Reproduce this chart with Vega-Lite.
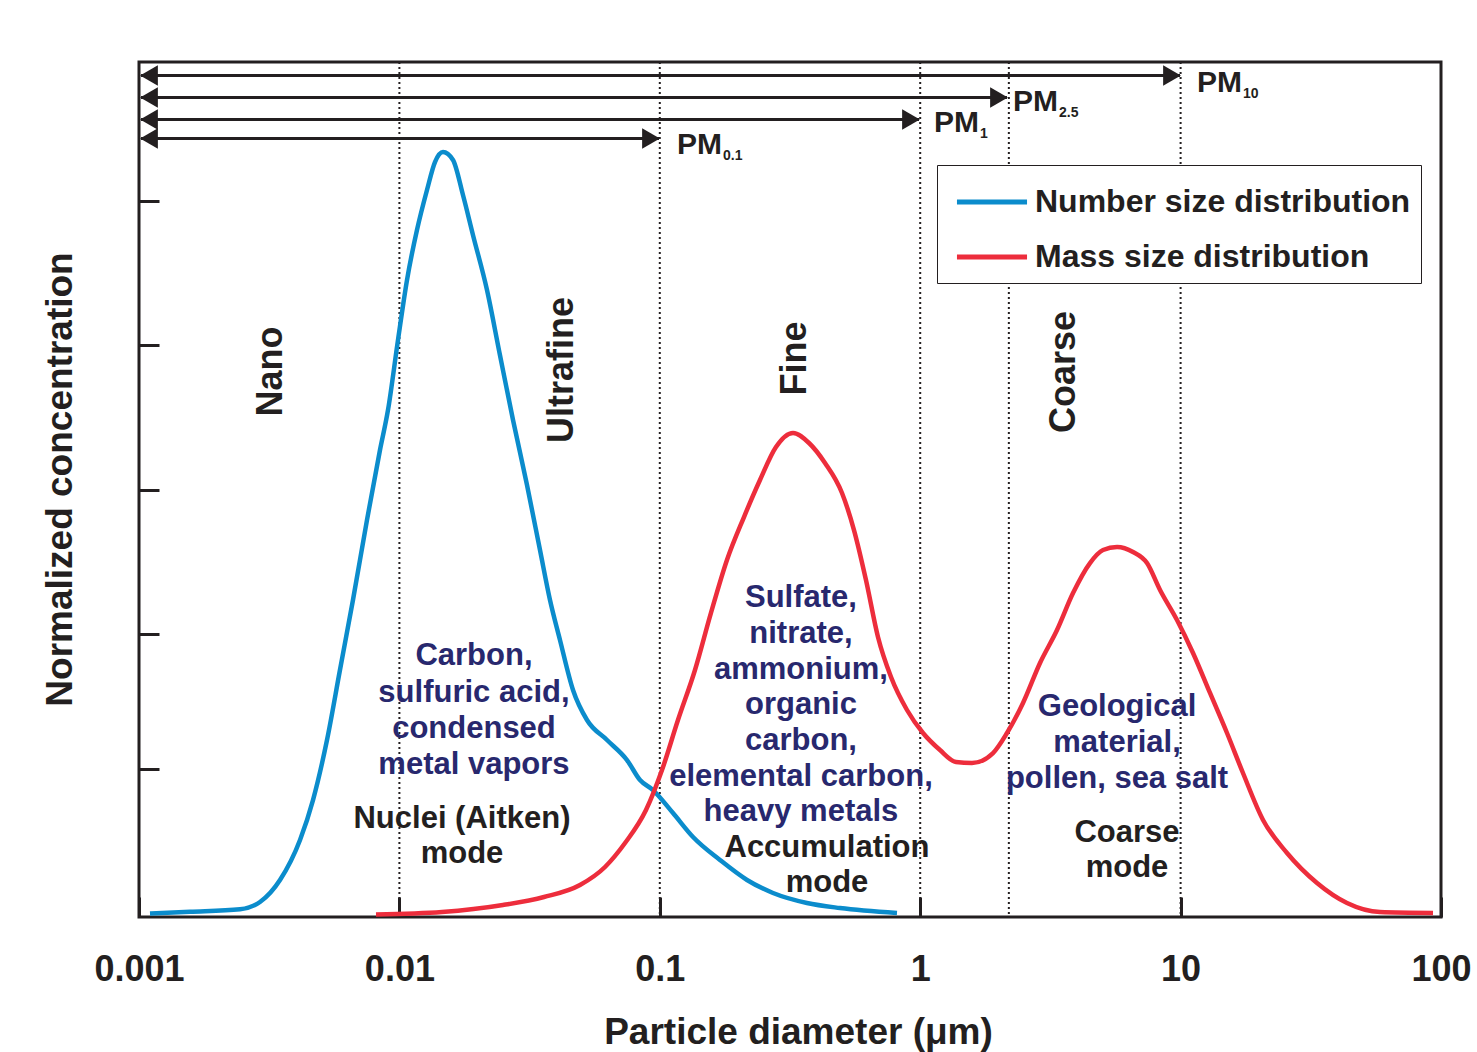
{
  "$schema": "https://vega.github.io/schema/vega-lite/v6.json",
  "width": 1302,
  "height": 855,
  "autosize": {"type": "none"},
  "padding": {"left": 139, "top": 62, "right": 36, "bottom": 135},
  "background": "white",
  "config": {
    "font": "Liberation Sans",
    "view": {"stroke": "#231f20", "strokeWidth": 3},
    "legend": {
      "orient": "none",
      "legendX": 798,
      "legendY": 103,
      "symbolType": "M-1.43,0H1.43",
      "symbolSize": 2401,
      "symbolStrokeWidth": 5,
      "symbolOffset": 18,
      "labelFontSize": 32,
      "labelFont": "Liberation Sans",
      "labelFontWeight": "bold",
      "labelColor": "#231f20",
      "labelLimit": 0,
      "labelOffset": 16,
      "strokeColor": "#231f20",
      "fillColor": "white",
      "padding": 10,
      "rowPadding": 12
    }
  },
  "datasets": {
    "vlines": [{"x": 0.01}, {"x": 0.1}, {"x": 1}, {"x": 2.19}, {"x": 10}],
    "arrows": [
      {"label": "PM10", "x": 0.0010178, "x2": 9.947, "y": 0.9842},
      {"label": "PM2.5", "x": 0.0010178, "x2": 2.1544, "y": 0.9585},
      {"label": "PM1", "x": 0.0010178, "x2": 0.98944, "y": 0.9327},
      {"label": "PM0.1", "x": 0.0010178, "x2": 0.0993, "y": 0.9105}
    ],
    "heads": [
      {"dir": "left", "x": 0.0010924, "y": 0.9842},
      {"dir": "left", "x": 0.0010924, "y": 0.9585},
      {"dir": "left", "x": 0.0010924, "y": 0.9327},
      {"dir": "left", "x": 0.0010924, "y": 0.9105},
      {"dir": "right", "x": 9.2675, "y": 0.9842},
      {"dir": "right", "x": 2.0077, "y": 0.9585},
      {"dir": "right", "x": 0.9219, "y": 0.9327},
      {"dir": "right", "x": 0.092522, "y": 0.9105}
    ],
    "curves": [
      {"series": "Number size distribution", "x": 0.001102, "y": 0.004},
      {"series": "Number size distribution", "x": 0.00157, "y": 0.006},
      {"series": "Number size distribution", "x": 0.002443, "y": 0.009},
      {"series": "Number size distribution", "x": 0.002915, "y": 0.0175},
      {"series": "Number size distribution", "x": 0.003479, "y": 0.0433},
      {"series": "Number size distribution", "x": 0.004153, "y": 0.0901},
      {"series": "Number size distribution", "x": 0.004658, "y": 0.1368},
      {"series": "Number size distribution", "x": 0.005272, "y": 0.207},
      {"series": "Number size distribution", "x": 0.005912, "y": 0.2889},
      {"series": "Number size distribution", "x": 0.006633, "y": 0.3708},
      {"series": "Number size distribution", "x": 0.007507, "y": 0.4643},
      {"series": "Number size distribution", "x": 0.008423, "y": 0.5462},
      {"series": "Number size distribution", "x": 0.009042, "y": 0.593},
      {"series": "Number size distribution", "x": 0.009876, "y": 0.6749},
      {"series": "Number size distribution", "x": 0.010695, "y": 0.745},
      {"series": "Number size distribution", "x": 0.011682, "y": 0.8035},
      {"series": "Number size distribution", "x": 0.012764, "y": 0.8503},
      {"series": "Number size distribution", "x": 0.013696, "y": 0.883},
      {"series": "Number size distribution", "x": 0.014703, "y": 0.8947},
      {"series": "Number size distribution", "x": 0.016062, "y": 0.8854},
      {"series": "Number size distribution", "x": 0.017545, "y": 0.8444},
      {"series": "Number size distribution", "x": 0.019165, "y": 0.7977},
      {"series": "Number size distribution", "x": 0.021697, "y": 0.7333},
      {"series": "Number size distribution", "x": 0.024327, "y": 0.6573},
      {"series": "Number size distribution", "x": 0.027309, "y": 0.5813},
      {"series": "Number size distribution", "x": 0.030904, "y": 0.5053},
      {"series": "Number size distribution", "x": 0.034667, "y": 0.4292},
      {"series": "Number size distribution", "x": 0.037871, "y": 0.3708},
      {"series": "Number size distribution", "x": 0.041366, "y": 0.324},
      {"series": "Number size distribution", "x": 0.046416, "y": 0.2655},
      {"series": "Number size distribution", "x": 0.052531, "y": 0.2304},
      {"series": "Number size distribution", "x": 0.062694, "y": 0.207},
      {"series": "Number size distribution", "x": 0.074817, "y": 0.1836},
      {"series": "Number size distribution", "x": 0.083946, "y": 0.1602},
      {"series": "Number size distribution", "x": 0.094171, "y": 0.1485},
      {"series": "Number size distribution", "x": 0.11239, "y": 0.1216},
      {"series": "Number size distribution", "x": 0.13414, "y": 0.0936},
      {"series": "Number size distribution", "x": 0.17024, "y": 0.0667},
      {"series": "Number size distribution", "x": 0.21625, "y": 0.0433},
      {"series": "Number size distribution", "x": 0.27212, "y": 0.0281},
      {"series": "Number size distribution", "x": 0.36741, "y": 0.0164},
      {"series": "Number size distribution", "x": 0.49204, "y": 0.0105},
      {"series": "Number size distribution", "x": 0.81452, "y": 0.0047},
      {"series": "Mass size distribution", "x": 0.00813, "y": 0.003},
      {"series": "Mass size distribution", "x": 0.014575, "y": 0.0058},
      {"series": "Mass size distribution", "x": 0.024981, "y": 0.014},
      {"series": "Mass size distribution", "x": 0.035918, "y": 0.0234},
      {"series": "Mass size distribution", "x": 0.049375, "y": 0.0374},
      {"series": "Mass size distribution", "x": 0.061608, "y": 0.0585},
      {"series": "Mass size distribution", "x": 0.073527, "y": 0.0865},
      {"series": "Mass size distribution", "x": 0.088512, "y": 0.1251},
      {"series": "Mass size distribution", "x": 0.10196, "y": 0.1719},
      {"series": "Mass size distribution", "x": 0.11744, "y": 0.2304},
      {"series": "Mass size distribution", "x": 0.1365, "y": 0.2889},
      {"series": "Mass size distribution", "x": 0.15722, "y": 0.3556},
      {"series": "Mass size distribution", "x": 0.18111, "y": 0.4175},
      {"series": "Mass size distribution", "x": 0.21052, "y": 0.4678},
      {"series": "Mass size distribution", "x": 0.24254, "y": 0.5111},
      {"series": "Mass size distribution", "x": 0.27939, "y": 0.5497},
      {"series": "Mass size distribution", "x": 0.32475, "y": 0.5661},
      {"series": "Mass size distribution", "x": 0.37411, "y": 0.5544},
      {"series": "Mass size distribution", "x": 0.43096, "y": 0.531},
      {"series": "Mass size distribution", "x": 0.50084, "y": 0.4959},
      {"series": "Mass size distribution", "x": 0.55682, "y": 0.4526},
      {"series": "Mass size distribution", "x": 0.6191, "y": 0.3942},
      {"series": "Mass size distribution", "x": 0.68843, "y": 0.3275},
      {"series": "Mass size distribution", "x": 0.7725, "y": 0.2807},
      {"series": "Mass size distribution", "x": 0.88985, "y": 0.2421},
      {"series": "Mass size distribution", "x": 1.02518, "y": 0.2152},
      {"series": "Mass size distribution", "x": 1.19124, "y": 0.1953},
      {"series": "Mass size distribution", "x": 1.37213, "y": 0.1813},
      {"series": "Mass size distribution", "x": 1.58073, "y": 0.1801},
      {"series": "Mass size distribution", "x": 1.904, "y": 0.1918},
      {"series": "Mass size distribution", "x": 2.15443, "y": 0.2152},
      {"series": "Mass size distribution", "x": 2.482, "y": 0.2503},
      {"series": "Mass size distribution", "x": 2.88468, "y": 0.2971},
      {"series": "Mass size distribution", "x": 3.35277, "y": 0.3357},
      {"series": "Mass size distribution", "x": 3.86264, "y": 0.3789},
      {"series": "Mass size distribution", "x": 4.48813, "y": 0.414},
      {"series": "Mass size distribution", "x": 5.03501, "y": 0.4292},
      {"series": "Mass size distribution", "x": 5.69937, "y": 0.4327},
      {"series": "Mass size distribution", "x": 6.56508, "y": 0.4269},
      {"series": "Mass size distribution", "x": 7.43019, "y": 0.414},
      {"series": "Mass size distribution", "x": 8.33682, "y": 0.3825},
      {"series": "Mass size distribution", "x": 9.68703, "y": 0.3474},
      {"series": "Mass size distribution", "x": 11.1597, "y": 0.3088},
      {"series": "Mass size distribution", "x": 12.9688, "y": 0.262},
      {"series": "Mass size distribution", "x": 15.0731, "y": 0.2152},
      {"series": "Mass size distribution", "x": 17.3595, "y": 0.1684},
      {"series": "Mass size distribution", "x": 20.7256, "y": 0.1135},
      {"series": "Mass size distribution", "x": 25.6255, "y": 0.0749},
      {"series": "Mass size distribution", "x": 33.4119, "y": 0.0398},
      {"series": "Mass size distribution", "x": 43.5503, "y": 0.0164},
      {"series": "Mass size distribution", "x": 58.3075, "y": 0.0058},
      {"series": "Mass size distribution", "x": 93.1813, "y": 0.0047}
    ],
    "regions": [
      {"text": "Nano", "x": 0.0035406, "y": 0.638},
      {"text": "Ultrafine", "x": 0.046416, "y": 0.6398},
      {"text": "Fine", "x": 0.36404, "y": 0.6532},
      {"text": "Coarse", "x": 3.9319, "y": 0.6374}
    ],
    "notes": [
      {"text": "Carbon,", "x": 0.019338, "y": 0.2947},
      {"text": "sulfuric acid,", "x": 0.019338, "y": 0.2515},
      {"text": "condensed", "x": 0.019338, "y": 0.2094},
      {"text": "metal vapors", "x": 0.019338, "y": 0.1673},
      {"text": "Sulfate,", "x": 0.34843, "y": 0.3626},
      {"text": "nitrate,", "x": 0.34843, "y": 0.3205},
      {"text": "ammonium,", "x": 0.34843, "y": 0.2784},
      {"text": "organic", "x": 0.34843, "y": 0.2374},
      {"text": "carbon,", "x": 0.34843, "y": 0.1953},
      {"text": "elemental carbon,", "x": 0.34843, "y": 0.1532},
      {"text": "heavy metals", "x": 0.34843, "y": 0.1123},
      {"text": "Geological", "x": 5.6994, "y": 0.2351},
      {"text": "material,", "x": 5.6994, "y": 0.193},
      {"text": "pollen, sea salt", "x": 5.6994, "y": 0.1509}
    ],
    "modes": [
      {"text": "Nuclei (Aitken)", "x": 0.01739, "y": 0.1041},
      {"text": "mode", "x": 0.01739, "y": 0.0632},
      {"text": "Accumulation", "x": 0.43853, "y": 0.0702},
      {"text": "mode", "x": 0.43853, "y": 0.0292},
      {"text": "Coarse", "x": 6.2257, "y": 0.0877},
      {"text": "mode", "x": 6.2257, "y": 0.0468}
    ],
    "pm": [
      {"text": "PM", "x": 11.561, "y": 0.9649},
      {"text": "PM", "x": 2.2724, "y": 0.9427},
      {"text": "PM", "x": 1.1297, "y": 0.9181},
      {"text": "PM", "x": 0.11643, "y": 0.8924}
    ],
    "pmsub": [
      {"text": "10", "x": 17.36, "y": 0.9579},
      {"text": "2.5", "x": 3.4119, "y": 0.9357},
      {"text": "1", "x": 1.6963, "y": 0.9111},
      {"text": "0.1", "x": 0.17484, "y": 0.8854}
    ]
  },
  "layer": [
    {
      "data": {"name": "vlines"},
      "mark": {"type": "rule", "color": "#231f20", "strokeWidth": 2, "strokeDash": [2, 3]},
      "encoding": {
        "x": {
          "field": "x",
          "type": "quantitative",
          "scale": {"type": "log", "domain": [0.001, 100], "nice": false},
          "axis": {
            "values": [0.001, 0.01, 0.1, 1, 10, 100],
            "format": "~f",
            "domain": false,
            "grid": false,
            "ticks": true,
            "tickSize": -20,
            "tickWidth": 3,
            "tickColor": "#231f20",
            "labelFontSize": 36,
            "labelFontWeight": "bold",
            "labelColor": "#231f20",
            "labelFlush": false,
            "labelOverlap": false,
            "labelPadding": 55,
            "title": "Particle diameter (μm)",
            "titleFontSize": 37,
            "titleFontWeight": "bold",
            "titleColor": "#231f20",
            "titleX": 659,
            "titleY": 126,
            "titleAlign": "center",
            "titleBaseline": "alphabetic"
          }
        }
      }
    },
    {
      "data": {"name": "arrows"},
      "mark": {"type": "rule", "color": "#231f20", "strokeWidth": 3},
      "encoding": {
        "x": {"field": "x", "type": "quantitative"},
        "x2": {"field": "x2"},
        "y": {
          "field": "y",
          "type": "quantitative",
          "scale": {"domain": [0, 1], "nice": false, "zero": true},
          "axis": {
            "values": [0.1731, 0.331, 0.4994, 0.669, 0.8374],
            "labels": false,
            "domain": false,
            "grid": false,
            "tickSize": -20,
            "tickWidth": 3,
            "tickColor": "#231f20",
            "title": "Normalized concentration",
            "titleFontSize": 37,
            "titleFontWeight": "bold",
            "titleColor": "#231f20",
            "titleAngle": 270,
            "titleX": -79,
            "titleY": 417,
            "titleAlign": "center",
            "titleBaseline": "middle"
          }
        }
      }
    },
    {
      "data": {"name": "heads"},
      "mark": {"type": "point", "filled": true, "color": "#231f20", "opacity": 1, "size": 420},
      "encoding": {
        "x": {"field": "x", "type": "quantitative"},
        "y": {"field": "y", "type": "quantitative"},
        "shape": {
          "field": "dir",
          "type": "nominal",
          "scale": {"domain": ["left", "right"], "range": ["triangle-left", "triangle-right"]},
          "legend": null
        }
      }
    },
    {
      "data": {"name": "curves"},
      "mark": {"type": "line", "strokeWidth": 4.5, "interpolate": "monotone"},
      "encoding": {
        "x": {"field": "x", "type": "quantitative"},
        "y": {"field": "y", "type": "quantitative"},
        "color": {
          "field": "series",
          "type": "nominal",
          "scale": {"domain": ["Number size distribution", "Mass size distribution"], "range": ["#0b8ccc", "#ed2d3c"]},
          "legend": {"title": null}
        }
      }
    },
    {
      "data": {"name": "regions"},
      "mark": {"type": "text", "angle": 270, "align": "center", "baseline": "alphabetic", "fontSize": 36, "fontWeight": "bold", "color": "#231f20"},
      "encoding": {
        "x": {"field": "x", "type": "quantitative"},
        "y": {"field": "y", "type": "quantitative"},
        "text": {"field": "text"}
      }
    },
    {
      "data": {"name": "notes"},
      "mark": {"type": "text", "align": "center", "baseline": "alphabetic", "fontSize": 31, "fontWeight": "bold", "color": "#28286e"},
      "encoding": {
        "x": {"field": "x", "type": "quantitative"},
        "y": {"field": "y", "type": "quantitative"},
        "text": {"field": "text"}
      }
    },
    {
      "data": {"name": "modes"},
      "mark": {"type": "text", "align": "center", "baseline": "alphabetic", "fontSize": 31, "fontWeight": "bold", "color": "#231f20"},
      "encoding": {
        "x": {"field": "x", "type": "quantitative"},
        "y": {"field": "y", "type": "quantitative"},
        "text": {"field": "text"}
      }
    },
    {
      "data": {"name": "pm"},
      "mark": {"type": "text", "align": "left", "baseline": "alphabetic", "fontSize": 30, "fontWeight": "bold", "color": "#231f20"},
      "encoding": {
        "x": {"field": "x", "type": "quantitative"},
        "y": {"field": "y", "type": "quantitative"},
        "text": {"field": "text"}
      }
    },
    {
      "data": {"name": "pmsub"},
      "mark": {"type": "text", "align": "left", "baseline": "alphabetic", "fontSize": 14, "fontWeight": "bold", "color": "#231f20"},
      "encoding": {
        "x": {"field": "x", "type": "quantitative"},
        "y": {"field": "y", "type": "quantitative"},
        "text": {"field": "text"}
      }
    }
  ]
}
